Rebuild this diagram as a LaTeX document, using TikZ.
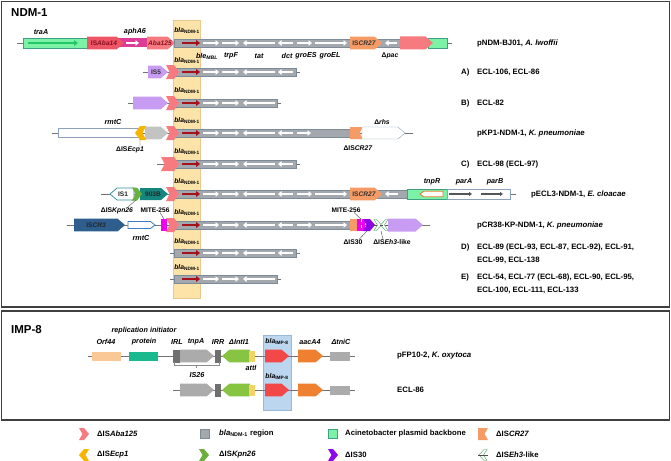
\documentclass[tikz,border=0pt]{standalone}
\usepackage{fontspec}
\setmainfont{Liberation Sans}
\usetikzlibrary{arrows.meta}

\definecolor{ndmband}{HTML}{FDE3A7}
\definecolor{bandedge}{HTML}{E9C98E}
\definecolor{barfill}{HTML}{A3A8AE}
\definecolor{baredge}{HTML}{7D8B99}
\definecolor{abapink}{HTML}{F67A80}
\definecolor{aba14}{HTML}{EE5566}
\definecolor{abatext}{HTML}{8A1020}
\definecolor{aphmag}{HTML}{DD3C97}
\definecolor{acgreen}{HTML}{7CF2A6}
\definecolor{acedge}{HTML}{3E9E86}
\definecolor{traagreen}{HTML}{22C866}
\definecolor{cr27}{HTML}{F79B66}
\definecolor{lav}{HTML}{C99CF4}
\definecolor{lgray}{HTML}{C3C3C3}
\definecolor{ecpyel}{HTML}{F8B500}
\definecolor{kpngreen}{HTML}{6BAF3C}
\definecolor{teal903}{HTML}{13877F}
\definecolor{is1edge}{HTML}{2E8B9A}
\definecolor{cr3blue}{HTML}{2E5E8E}
\definecolor{rmtblue}{HTML}{3B7CC0}
\definecolor{mite}{HTML}{F000F0}
\definecolor{is30}{HTML}{8C08E6}
\definecolor{eh3green}{HTML}{4CA060}
\definecolor{tnprorange}{HTML}{E4782A}
\definecolor{pardark}{HTML}{555555}
\definecolor{wedge}{HTML}{8DA2BA}
\definecolor{ndmred}{HTML}{A5121A}
\definecolor{orfpeach}{HTML}{FAC796}
\definecolor{repgreen}{HTML}{1DB98E}
\definecolor{irgray}{HTML}{6F6F6F}
\definecolor{tnpgray}{HTML}{ABABAB}
\definecolor{intgreen}{HTML}{86C442}
\definecolor{attyel}{HTML}{F4D264}
\definecolor{impband}{HTML}{BCD6EF}
\definecolor{impedge}{HTML}{98B8DA}
\definecolor{impred}{HTML}{F24848}
\definecolor{aacorange}{HTML}{EF8030}

\tikzset{
  every node/.style={inner sep=0pt, font=\bfseries\fontsize{7.8}{9.4}\selectfont},
  head/.style={font=\bfseries\fontsize{11.5}{13}\selectfont},
  glab/.style={font=\bfseries\itshape\fontsize{7.2}{8.5}\selectfont},
  inlab/.style={font=\bfseries\fontsize{6.6}{8}\selectfont},
  smalllab/.style={font=\bfseries\fontsize{6.8}{8}\selectfont},
  leg/.style={anchor=west, font=\bfseries\fontsize{7.7}{9}\selectfont},
  panel/.style={draw=black!75, line width=1.1pt},
  bb/.style={draw=black!55, line width=0.8pt},
  graybar/.style={fill=barfill, draw=baredge, line width=0.6pt},
  whitearr/.style={white, line width=2.2pt, -{Triangle[length=3.5pt,width=5.5pt]}},
  redarr/.style={ndmred, line width=2.5pt, -{Triangle[length=4pt,width=6pt]}},
  traarr/.style={traagreen, line width=2.4pt, -{Triangle[length=4pt,width=5.5pt]}},
  pararr/.style={pardark, line width=1.8pt, -{Triangle[length=3pt,width=4pt]}},
  leader/.style={draw=black!70, line width=0.4pt}
}

% gene arrows: [half height]{style}{x from}{x to}{y}
\newcommand{\gener}[5][6.3]{\path[#2] (#3,#5-#1) -- (#4-#1-1,#5-#1) -- (#4,#5) -- (#4-#1-1,#5+#1) -- (#3,#5+#1) -- cycle;}
\newcommand{\genel}[5][6.3]{\path[#2] (#4,#5-#1) -- (#3+#1+1,#5-#1) -- (#3,#5) -- (#3+#1+1,#5+#1) -- (#4,#5+#1) -- cycle;}
% IS remnants: [half height]{style}{x from}{x to}{y}
\newcommand{\chevr}[5][7]{\path[#2] (#3,#5-#1) -- (#4-5,#5-#1) -- (#4,#5) -- (#4-5,#5+#1) -- (#3,#5+#1) -- (#3+3.5,#5) -- cycle;}
\newcommand{\chevl}[5][7]{\path[#2] (#4,#5-#1) -- (#3+5,#5-#1) -- (#3,#5) -- (#3+5,#5+#1) -- (#4,#5+#1) -- (#4-3.5,#5) -- cycle;}
\newcommand{\notchr}[5][6]{\path[#2] (#3,#5-#1) -- (#4,#5-#1) -- (#4-3.5,#5) -- (#4,#5+#1) -- (#3,#5+#1) -- cycle;}
% bla_NDM-1 region
\newcommand{\ndmshort}[2]{%
  \draw[graybar] (174,#1-4) rectangle (#2,#1+4);
  \draw[redarr] (182,#1) -- (200,#1);
  \draw[whitearr] (203,#1) -- (219,#1);
  \draw[whitearr] (222,#1) -- (239,#1);
  \draw[whitearr] (275,#1) -- (243,#1);}
\newcommand{\ndmmid}[1]{\draw[whitearr] (293,#1) -- (278,#1);}
\newcommand{\ndmlong}[1]{\draw[whitearr] (297,#1) -- (312,#1); \draw[whitearr] (315,#1) -- (347,#1);}
\newcommand{\blandm}{\textit{bla}\textsubscript{NDM-1}}
\newcommand{\blaimp}{\textit{bla}\textsubscript{IMP-8}}

\begin{document}
\begin{tikzpicture}[x=1pt,y=-1pt]
\useasboundingbox (0,0) rectangle (671,460);

% panels
\draw[panel] (1.5,1.5) rectangle (669.5,307);
\draw[panel] (1.5,311) rectangle (669.5,420);
\node[head,anchor=west] (hndm) at (11,13) {NDM-1};
\node[head,anchor=west] (himp) at (11,330) {IMP-8};

\draw[fill=ndmband, draw=bandedge] (173,20) rectangle (200,298);

% pNDM-BJ01
\draw[bb] (17,43) -- (452,43);
\draw[fill=acgreen, draw=acedge] (23,38) rectangle (88,48);
\draw[traarr] (28,43) -- (78,43);
\fill[aphmag] (118,38.5) rectangle (150,47.5);
\draw[whitearr] (126,43) -- (139,43);
\gener{fill=aba14}{87}{124}{43}
\gener{fill=abapink}{147}{175}{43}
\ndmshort{43}{350}\ndmmid{43}\ndmlong{43}
\draw[graybar] (370,39) rectangle (401,47);
\draw[whitearr] (397,43) -- (385,43);
\gener{fill=cr27}{350}{382}{43}
\draw[fill=acgreen, draw=acedge] (428,38) rectangle (447,48);
\gener[6.5]{fill=abapink}{400}{433}{43}
\node[inlab,text=abatext] (aba14) at (104,43) {IS\textit{Aba14}};
\node[inlab,text=abatext] (aba125) at (160,43) {\textit{Aba125}};
\node[inlab,text=black!80] (cr27a) at (364,43) {IS\textit{CR27}};
\node[glab] (traa) at (41,32) {traA};
\node[glab] (apha) at (135,32) {aphA6};
\node[smalllab] (bla1) at (187,31) {\blandm};
\node[glab] (ble) at (207,56) {ble\textsubscript{MBL}};
\node[glab] (trpf) at (231,56) {trpF};
\node[glab] (tat) at (259,56) {tat};
\node[glab] (dct) at (287,56) {dct};
\node[glab] (groes) at (306,56) {groES};
\node[glab] (groel) at (330,56) {groEL};
\node[smalllab] (pac) at (390,56) {Δ\textit{pac}};
\node[anchor=west] (r1) at (477,43) {pNDM-BJ01, \textit{A. lwoffii}};

% A
\draw[bb] (143,72) -- (300,72);
\gener{fill=lav}{148}{168}{72}
\ndmshort{72}{296}\ndmmid{72}
\chevr{fill=abapink}{166}{179}{72}
\node[inlab,text=black!80] (is5) at (156,72) {IS5};
\node[smalllab] (bla2) at (187,61) {\blandm};
\node[anchor=west] (la) at (461,72) {A)};
\node[anchor=west] (ra) at (477,72) {ECL-106, ECL-86};

% B
\draw[bb] (128,103) -- (281,103);
\gener{fill=lav}{133}{168}{103}
\ndmshort{103}{277}
\chevr{fill=abapink}{166}{179}{103}
\node[smalllab] (bla3) at (187,91) {\blandm};
\node[anchor=west] (lb) at (461,103) {B)};
\node[anchor=west] (rb) at (477,103) {ECL-82};

% pKP1-NDM-1
\draw[bb] (52,133) -- (413,133);
\draw[fill=white, draw=wedge] (58,128.5) rectangle (140,137.5);
\gener{fill=lgray}{145}{168}{133}
\chevl{fill=ecpyel}{135}{146}{133}
\ndmshort{133}{350}\ndmmid{133}
\draw[whitearr] (297,133) -- (311,133);
\chevr{fill=abapink}{166}{179}{133}
\notchr{fill=cr27}{350}{363}{133}
\gener[6]{fill=white, draw=wedge}{362}{405}{133}
\coordinate (cecp) at (140,139);
\node[glab] (rmt1) at (113,122) {rmtC};
\node[smalllab] (bla4) at (187,121) {\blandm};
\node[smalllab] (ecp) at (130,150) {ΔIS\textit{Ecp1}};
\draw[leader] ([xshift=-4pt]ecp.north east) -- (cecp);
\node[smalllab] (cr27b) at (358,148) {ΔIS\textit{CR27}};
\node[smalllab] (rhs) at (382,122) {Δ\textit{rhs}};
\node[anchor=west] (r4) at (477,133) {pKP1-NDM-1, \textit{K. pneumoniae}};

% C
\draw[bb] (157,164) -- (300,164);
\ndmshort{164}{296}\ndmmid{164}
\chevr{fill=abapink}{161}{179}{164}
\node[smalllab] (bla5) at (187,152) {\blandm};
\node[anchor=west] (lc) at (461,164) {C)};
\node[anchor=west] (rc) at (477,164) {ECL-98 (ECL-97)};

% pECL3-NDM-1
\draw[bb] (101,194) -- (516,194);
\genel[6]{fill=white, draw=is1edge, line width=0.7pt}{110}{134}{194}
\gener[6]{fill=teal903}{140}{168}{194}
\chevr[6.5]{fill=kpngreen}{132}{142}{194}
\ndmshort{194}{350}\ndmmid{194}\ndmlong{194}
\chevr{fill=abapink}{166}{179}{194}
\draw[graybar] (370,190) rectangle (408,198);
\draw[whitearr] (398,194) -- (385,194);
\gener{fill=cr27}{350}{382}{194}
\draw[fill=acgreen, draw=acedge] (407,189) rectangle (447,199);
\genel[2.8]{fill=white, draw=tnprorange, line width=0.8pt}{420}{443}{194}
\draw[fill=white, draw=wedge] (447,189) rectangle (510,199);
\draw[pararr] (449,194) -- (472,194);
\draw[pararr] (481,194) -- (503,194);
\coordinate (ckpn) at (136,200);
\node[inlab,text=black!85] (is1) at (123,194) {IS1};
\node[inlab,text=black!85] (t903) at (153,194) {903B};
\node[inlab,text=black!80] (cr27c) at (364,194) {IS\textit{CR27}};
\node[smalllab] (bla6) at (187,182) {\blandm};
\node[glab] (tnpr) at (432,182) {tnpR};
\node[glab] (para) at (464,182) {parA};
\node[glab] (parb) at (495,182) {parB};
\node[smalllab] (kpn) at (117,211) {ΔIS\textit{Kpn26}};
\draw[leader] ([xshift=-6pt]kpn.north east) -- (ckpn);
\node[anchor=west] (r6) at (531,194) {pECL3-NDM-1, \textit{E. cloacae}};

% pCR38-KP-NDM-1
\draw[bb] (67,225) -- (430,225);
\gener{fill=cr3blue}{74}{125}{225}
\gener[3.5]{fill=white, draw=rmtblue, line width=0.8pt}{128}{155}{225}
\fill[mite] (161,219) rectangle (167,231);
\ndmshort{225}{350}\ndmmid{225}\ndmlong{225}
\chevr{fill=abapink}{166}{179}{225}
\fill[cr27] (350,219) rectangle (359,231);
\fill[mite] (357,219) rectangle (365,231);
\draw[white, dashed, line width=0.5pt] (361,219) -- (361,231);
\chevr[6]{fill=is30}{363}{375}{225}
\chevr[5.5]{fill=white, draw=eh3green}{374}{381.5}{225}
\chevl[5.5]{fill=white, draw=eh3green}{380.5}{388}{225}
\draw[black!70, dashed, line width=0.6pt] (374,225) -- (388,225);
\gener[6.5]{fill=lav}{388}{423}{225}
\coordinate (cmite1) at (164,219);
\coordinate (cmite2) at (361,219);
\coordinate (cis30) at (367,231);
\coordinate (ceh3) at (381,231);
\node[inlab,text=black!85] (cr3) at (96,225) {IS\textit{CR3}};
\node[glab] (rmt2) at (141,238) {rmtC};
\node[smalllab] (bla7) at (187,213) {\blandm};
\node[inlab] (mite1) at (155,210) {MITE-256};
\draw[leader] ([xshift=5pt]mite1.south) -- (cmite1);
\node[inlab] (mite2) at (346,210) {MITE-256};
\draw[leader] ([xshift=8pt]mite2.south) -- (cmite2);
\node[smalllab] (is30) at (353,242) {ΔIS30};
\draw[leader] ([xshift=6pt]is30.north) -- (cis30);
\node[smalllab] (eh3) at (392,242) {ΔIS\textit{Eh3}-like};
\draw[leader] ([xshift=-9pt]eh3.north) -- (ceh3);
\node[anchor=west] (r7) at (477,225) {pCR38-KP-NDM-1, \textit{K. pneumoniae}};

% D
\draw[bb] (170,253) -- (300,253);
\ndmshort{253}{296}\ndmmid{253}
\node[smalllab] (bla8) at (187,242) {\blandm};
\node[anchor=west] (ld) at (461,247) {D)};
\node[anchor=north west, align=left] (rd) at (477,243.5) {ECL-89 (ECL-93, ECL-87, ECL-92), ECL-91,\\[4pt]ECL-99, ECL-138};

% E
\draw[bb] (170,279) -- (281,279);
\ndmshort{279}{277}
\node[smalllab] (bla9) at (187,268) {\blandm};
\node[anchor=west] (le) at (461,277) {E)};
\node[anchor=north west, align=left] (re) at (477,273.5) {ECL-54, ECL-77 (ECL-68), ECL-90, ECL-95,\\[4pt]ECL-100, ECL-111, ECL-133};

% IMP-8
\draw[fill=impband, draw=impedge] (263,335) rectangle (291,410);
% pFP10-2
\draw[bb] (88,356) -- (355,356);
\fill[orfpeach] (92,351.5) rectangle (121,360.5);
\fill[repgreen] (129,351.5) rectangle (158,360.5);
\fill[irgray] (173,349.5) rectangle (180,362.5);
\gener{fill=tnpgray}{180}{214}{356}
\fill[irgray] (215,349.5) rectangle (221,362.5);
\genel{fill=intgreen}{222}{250}{356}
\fill[attyel] (249,350.5) rectangle (255,361.5);
\gener{fill=impred}{265}{289}{356}
\gener{fill=aacorange}{298}{323}{356}
\fill[tnpgray] (330,351.5) rectangle (350,360.5);
\node[glab] (orf) at (106,342) {Orf44};
\node[glab] (repi) at (144,331) {replication initiator};
\node[glab] (prot) at (144,342) {protein};
\node[glab] (irl) at (177,342) {IRL};
\node[glab] (tnpa) at (196,342) {tnpA};
\node[glab] (irr) at (218,342) {IRR};
\node[glab] (intl) at (239,342) {ΔIntI1};
\node[smalllab] (bla10) at (277,342) {\blaimp};
\node[glab] (aac) at (310,342) {aacA4};
\node[glab] (tnic) at (341,342) {ΔtniC};
\node[glab] (atti) at (251,368) {attI};
\draw[black!45, line width=0.6pt] (174,362) -- (174,365) -- (219,365) -- (219,362);
\draw[black!45, line width=0.6pt] (196.5,365) -- (196.5,368);
\node[glab] (is26) at (197,375) {IS26};
\node[anchor=west] (r10) at (397,356) {pFP10-2, \textit{K. oxytoca}};

% ECL-86
\draw[bb] (173,390) -- (355,390);
\gener{fill=tnpgray}{180}{214}{390}
\fill[irgray] (215,383.5) rectangle (221,396.5);
\genel{fill=intgreen}{222}{250}{390}
\fill[attyel] (249,384.5) rectangle (255,395.5);
\gener{fill=impred}{265}{289}{390}
\gener{fill=aacorange}{298}{323}{390}
\fill[tnpgray] (330,385.5) rectangle (350,394.5);
\node[smalllab] (bla11) at (277,377) {\blaimp};
\node[anchor=west] (r11) at (397,390) {ECL-86};

% legend
\chevr[6]{fill=abapink}{79}{89}{434}
\node[leg] (k1) at (97,434) {ΔIS\textit{Aba125}};
\draw[fill=barfill, draw=baredge] (200,429.5) rectangle (209,438.5);
\node[leg] (k2) at (219,434) {\blandm{} region};
\draw[fill=acgreen, draw=acedge] (328,429.5) rectangle (337,438.5);
\node[leg] (k3) at (345,434) {Acinetobacter plasmid backbone};
\notchr{fill=cr27}{478}{488}{434}
\node[leg] (k4) at (496,434) {ΔIS\textit{CR27}};
\chevl[6]{fill=ecpyel}{79}{89}{455}
\node[leg] (k5) at (97,455) {ΔIS\textit{Ecp1}};
\chevr[6]{fill=kpngreen}{199}{209}{455}
\node[leg] (k6) at (219,455) {ΔIS\textit{Kpn26}};
\chevr[6]{fill=is30}{328}{338}{455}
\node[leg] (k7) at (345,455) {ΔIS30};
\chevl[5.5]{fill=white, draw=eh3green}{479}{487}{455}
\draw[black!70, line width=0.6pt] (478,455) -- (488,455);
\node[leg] (k8) at (496,455) {ΔIS\textit{Eh3}-like};
\end{tikzpicture}
\end{document}
